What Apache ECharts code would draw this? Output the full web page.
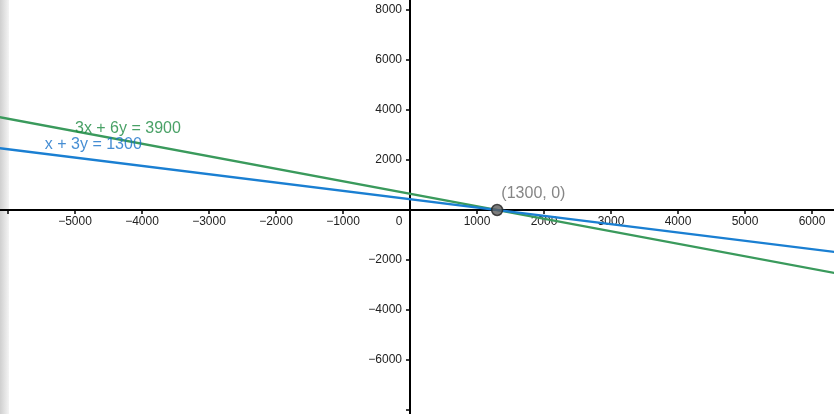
<!DOCTYPE html>
<html>
<head>
<meta charset="utf-8">
<script src="https://cdn.jsdelivr.net/npm/echarts@6/dist/echarts.min.js"></script>
<style>html,body{margin:0;padding:0;background:#fff}#c{width:834px;height:414px}</style>
</head>
<body>
<div id="c"></div>
<script>
// Line endpoints (x, y) in data units
var blueLine = [[-7000, 2766.67], [7000, -1900]];      // x + 3y = 1300
var greenLine = [[-7000, 4150], [7000, -2850]];        // 3x + 6y = 3900
var intersection = [[1300, 0]];
var intersectionLabel = '(1300, 0)';
var greenLabel = '3x + 6y = 3900';
var blueLabel = 'x + 3y = 1300';
var greenLabelAt = [-5000, 3250];
var blueLabelAt = [-5450, 2610];
var xTicks = [-6000, -5000, -4000, -3000, -2000, -1000, 0, 1000, 2000, 3000, 4000, 5000, 6000];
var xTickLabels = [-5000, -4000, -3000, -2000, -1000, 0, 1000, 2000, 3000, 4000, 5000, 6000];
var yTicks = [-8000, -6000, -4000, -2000, 2000, 4000, 6000, 8000];
var yTickLabels = [-6000, -4000, -2000, 2000, 4000, 6000, 8000];
var xView = [-6119, 6328];
var yView = [-8160, 8400];

var chart = echarts.init(document.getElementById('c'));
var ff = 'Liberation Sans, Arial, sans-serif';
function fmt(v) {
  if (v === 0) return '{o|0}';
  return (v < 0 ? '\u2212' + Math.abs(v) : String(v));
}
function axisCommon() {
  return {
    axisLine: { onZero: false, lineStyle: { color: '#000', width: 2 } },
    splitLine: { show: false }
  };
}
var xAxis = Object.assign(axisCommon(), {
  type: 'value', min: xView[0], max: xView[1], position: 'bottom', offset: 0,
  axisTick: { length: 4, customValues: xTicks, lineStyle: { color: '#000', width: 1.5 } },
  axisLabel: {
    customValues: xTickLabels, hideOverlap: false, showMinLabel: true, showMaxLabel: true,
    color: '#222', fontFamily: ff, fontSize: 12, margin: 6, formatter: fmt,
    rich: { o: { color: '#222', fontFamily: ff, fontSize: 12, padding: [0, 22, 0, 0] } }
  }
});
var yAxis = Object.assign(axisCommon(), {
  type: 'value', min: yView[0], max: yView[1], position: 'left', offset: 0,
  axisTick: { length: 4, customValues: yTicks, lineStyle: { color: '#000', width: 1.5 } },
  axisLabel: {
    customValues: yTickLabels, hideOverlap: false, showMinLabel: true, showMaxLabel: true,
    color: '#222', fontFamily: ff, fontSize: 12, margin: 8, formatter: fmt
  }
});
chart.setOption({
  animation: false,
  backgroundColor: '#fff',
  grid: { left: 0, right: 0, top: 0, bottom: 0, containLabel: false, outerBoundsMode: 'none' },
  xAxis: xAxis,
  yAxis: yAxis,
  series: [
    { type: 'line', data: greenLine, symbol: 'none', lineStyle: { color: '#3a9a5c', width: 2.4 }, z: 3 },
    { type: 'line', data: blueLine, symbol: 'none', lineStyle: { color: '#1a7fd2', width: 2.4 }, z: 4 },
    { type: 'scatter', data: [greenLabelAt], symbolSize: 0, z: 6,
      label: { show: true, position: 'right', distance: 0, formatter: greenLabel,
        color: '#1c8a40', fontFamily: ff, fontSize: 16 } },
    { type: 'scatter', data: [blueLabelAt], symbolSize: 0, z: 6,
      label: { show: true, position: 'right', distance: 0, formatter: blueLabel,
        color: '#1670c8', fontFamily: ff, fontSize: 16 } },
    { type: 'scatter', data: intersection, symbol: 'circle', symbolSize: 11, z: 8,
      itemStyle: { color: '#5b5b5b', borderColor: '#222', borderWidth: 1.5 },
      label: { show: true, position: 'right', distance: 5, offset: [-7, -16], formatter: intersectionLabel,
        color: '#666', fontFamily: ff, fontSize: 16 } }
  ],
  graphic: [
    { type: 'rect', left: 0, top: 0, shape: { width: 9, height: 414 }, z: -10,
      style: { fill: { type: 'linear', x: 0, y: 0, x2: 1, y2: 0, colorStops: [
        { offset: 0, color: '#cfcfcf' }, { offset: 1, color: '#f4f4f4' } ] } } }
  ]
});
// Move both axes so that they cross at the data origin
var o = chart.convertToPixel({ gridIndex: 0 }, [0, 0]);
var h = chart.getHeight();
chart.setOption({
  xAxis: { offset: -(h - o[1]) },
  yAxis: { offset: -o[0] }
});
</script>
</body>
</html>
